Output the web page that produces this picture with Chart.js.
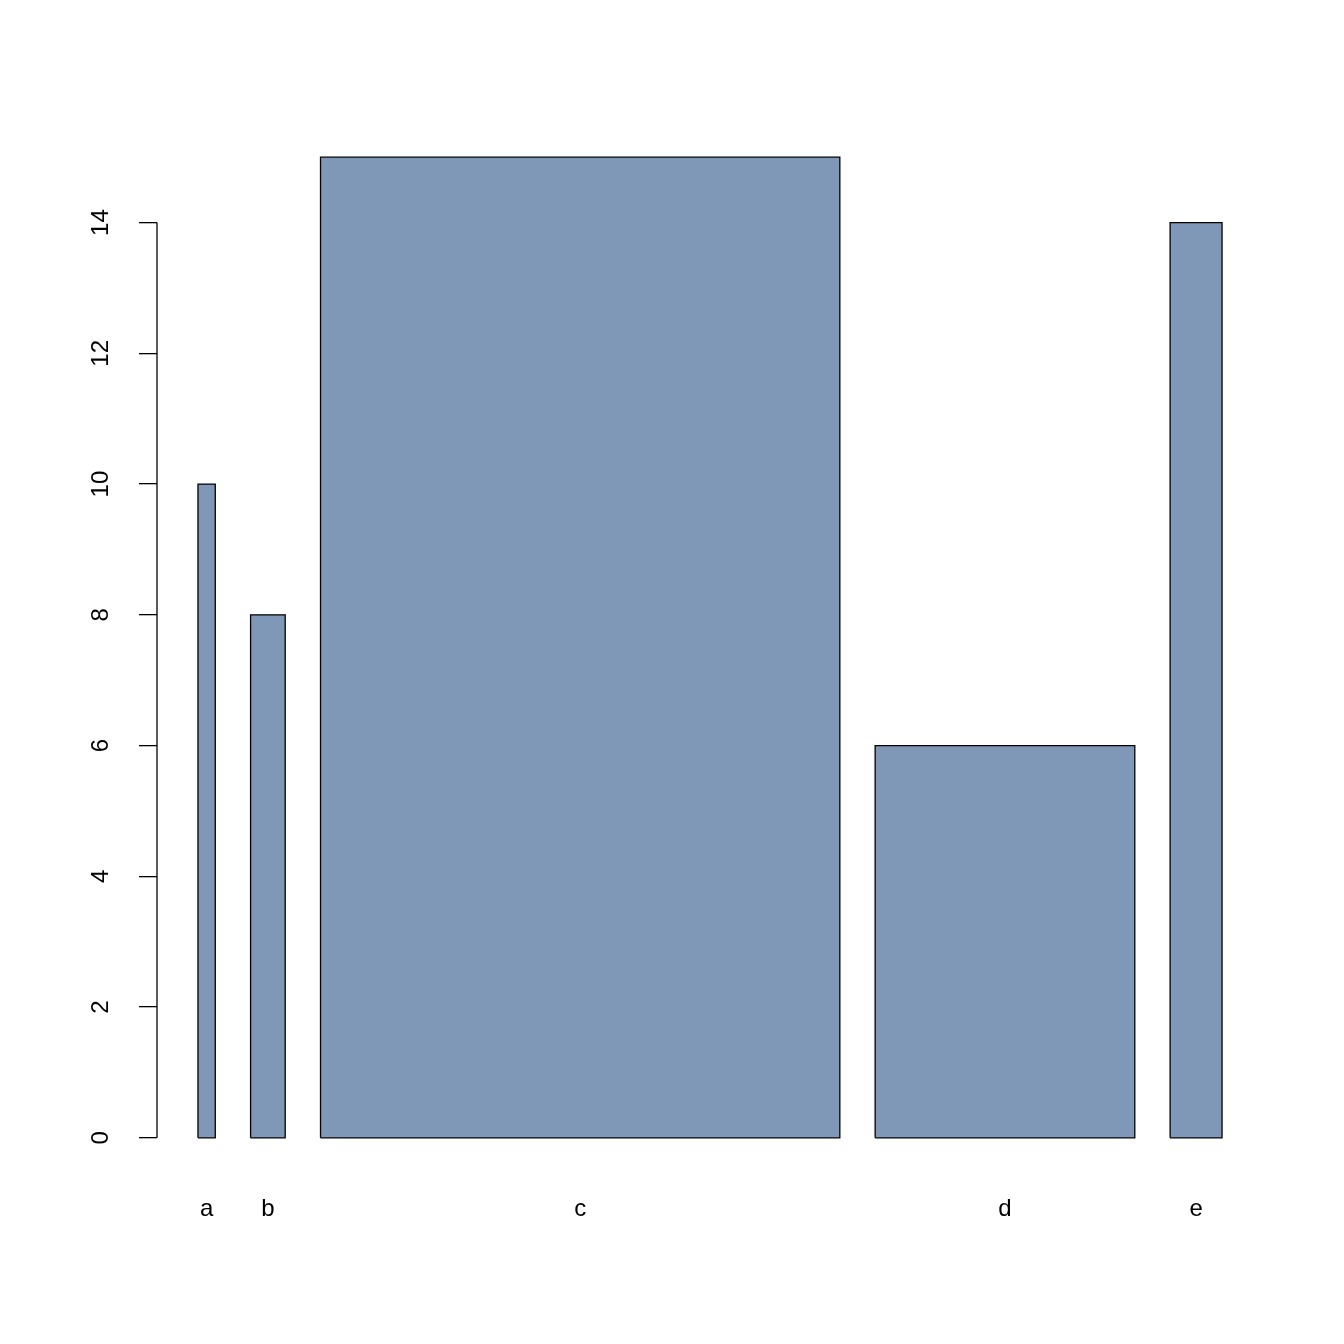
<!DOCTYPE html>
<html>
<head>
<meta charset="utf-8">
<script src="https://cdn.jsdelivr.net/npm/chart.js@4"></script>
<style>
  html, body { margin: 0; padding: 0; background: #fff; }
  #wrap { width: 1344px; height: 1344px; }
</style>
</head>
<body>
<div id="wrap"><canvas id="barChart" width="1344" height="1344"></canvas></div>
<script>
const categories = ['a', 'b', 'c', 'd', 'e'];
const values = [10, 8, 15, 6, 14];
const widths = [1, 2, 30, 15, 3];
const yTicks = [0, 2, 4, 6, 8, 10, 12, 14];

const fillColor = '#7f98b7';

// bar positions like R barplot: space = 0.2 * mean width
const space = 0.2 * widths.reduce((s, w) => s + w, 0) / widths.length;
const lefts = [];
const centers = [];
let pos = 0;
widths.forEach(w => {
    pos += space;
    lefts.push(pos);
    centers.push(pos + w / 2);
    pos += w;
});
const xLo = lefts[0];
const xHi = pos;
const xPad = (xHi - xLo) * 0.04;
const yMax = Math.max(...values);
const yPad = yMax * 0.04;

// each bar = filled area + closed outline
const datasets = [];
categories.forEach((cat, i) => {
    const l = lefts[i], r = lefts[i] + widths[i], v = values[i];
    datasets.push({
        label: cat,
        data: [{x: l, y: 0}, {x: l, y: v}, {x: r, y: v}, {x: r, y: 0}],
        fill: 'origin',
        backgroundColor: fillColor,
        borderWidth: 0,
        pointRadius: 0,
        tension: 0,
        order: 2
    });
    datasets.push({
        label: cat + ' outline',
        data: [{x: l, y: 0}, {x: l, y: v}, {x: r, y: v}, {x: r, y: 0}, {x: l, y: 0}],
        fill: false,
        borderColor: '#000',
        borderWidth: 1.3,
        pointRadius: 0,
        tension: 0,
        order: 1
    });
});

// y axis line only from first to last tick, like R
const axisLine = {
    id: 'axisLine',
    afterDraw(chart) {
        const y = chart.scales.y;
        const c = chart.ctx;
        const x = chart.chartArea.left;
        c.save();
        c.strokeStyle = '#000';
        c.lineWidth = 1.3;
        c.beginPath();
        c.moveTo(x, y.getPixelForValue(yTicks[0]));
        c.lineTo(x, y.getPixelForValue(yTicks[yTicks.length - 1]));
        c.stroke();
        c.restore();
    }
};

new Chart(document.getElementById('barChart').getContext('2d'), {
    type: 'line',
    data: { datasets: datasets },
    plugins: [axisLine],
    options: {
        responsive: false,
        animation: false,
        layout: { padding: { left: 0, right: 81, top: 118, bottom: 0 } },
        plugins: {
            legend: { display: false },
            tooltip: { enabled: false },
            filler: { propagate: false }
        },
        scales: {
            x: {
                type: 'linear',
                min: xLo - xPad,
                max: xHi + xPad,
                afterBuildTicks: s => { s.ticks = centers.map(v => ({value: v})); },
                afterFit: s => { s.height = 167; },
                grid: { display: false },
                border: { display: false },
                ticks: {
                    autoSkip: false,
                    maxRotation: 0,
                    padding: 10,
                    color: '#000',
                    font: { family: 'Liberation Sans', size: 24 },
                    callback: (v, i) => categories[i]
                }
            },
            y: {
                min: -yPad,
                max: yMax + yPad,
                afterBuildTicks: s => { s.ticks = yTicks.map(v => ({value: v})); },
                afterFit: s => { s.width = 157; },
                border: { display: false },
                grid: {
                    drawOnChartArea: false,
                    drawTicks: true,
                    tickLength: 18,
                    color: '#000',
                    lineWidth: 1.3
                },
                ticks: {
                    minRotation: 90,
                    maxRotation: 90,
                    crossAlign: 'center',
                    padding: 24,
                    color: '#000',
                    font: { family: 'Liberation Sans', size: 24 }
                }
            }
        }
    }
});
</script>
</body>
</html>
